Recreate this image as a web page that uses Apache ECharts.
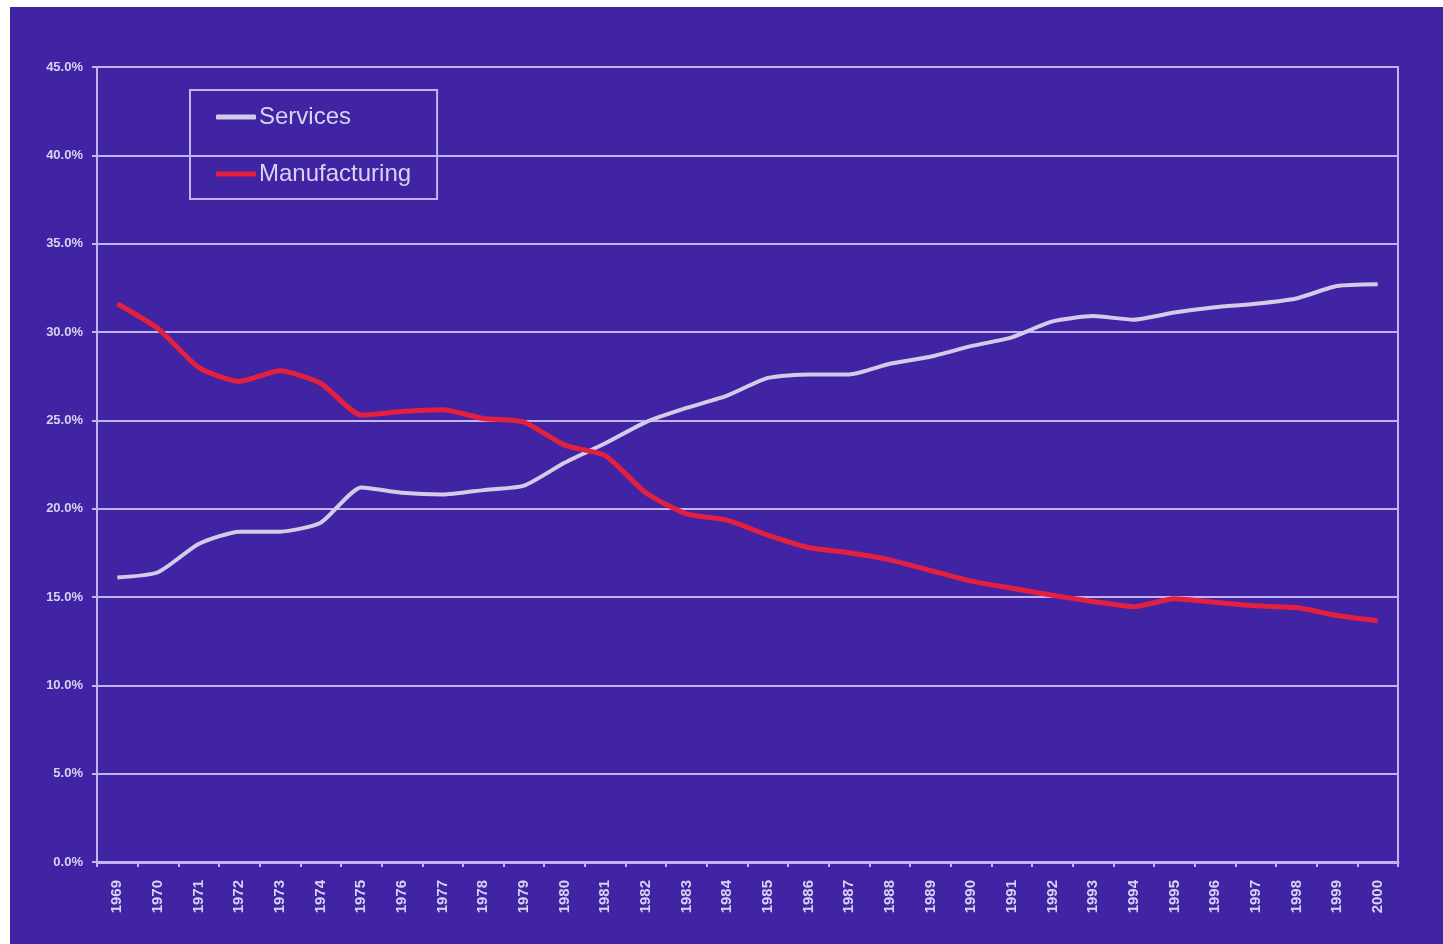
<!DOCTYPE html>
<html>
<head>
<meta charset="utf-8">
<title>Services vs Manufacturing share, 1969–2000</title>
<script src="https://cdn.jsdelivr.net/npm/echarts@6/dist/echarts.min.js"></script>
<style>
  html, body { margin: 0; padding: 0; background: #ffffff; width: 1443px; height: 944px; overflow: hidden; }
  #frame { position: absolute; left: 10px; top: 7px; right: 0; bottom: 0; background: #4124a4; }
  #chart { position: absolute; left: 0; top: 0; width: 1443px; height: 944px; }
</style>
</head>
<body>
<div id="frame"></div>
<div id="chart"></div>
<script>
// Years on the category axis
const years = ['1969','1970','1971','1972','1973','1974','1975','1976','1977','1978','1979',
  '1980','1981','1982','1983','1984','1985','1986','1987','1988','1989','1990',
  '1991','1992','1993','1994','1995','1996','1997','1998','1999','2000'];

// Share of total (percent)
const services = [16.1, 16.4, 18.0, 18.7, 18.7, 19.2, 21.2, 20.9, 20.8, 21.05, 21.3,
  22.6, 23.7, 24.9, 25.7, 26.4, 27.4, 27.6, 27.6, 28.2, 28.6, 29.2,
  29.7, 30.6, 30.9, 30.7, 31.1, 31.4, 31.6, 31.9, 32.6, 32.7];

const manufacturing = [31.6, 30.2, 28.0, 27.2, 27.8, 27.1, 25.3, 25.5, 25.6, 25.1, 24.9,
  23.6, 23.0, 20.9, 19.7, 19.35, 18.5, 17.8, 17.5, 17.1, 16.5, 15.9,
  15.5, 15.1, 14.75, 14.45, 14.9, 14.7, 14.5, 14.4, 13.95, 13.65];

const seriesNames = ['Services', 'Manufacturing'];

const narrow = "'Liberation Sans Narrow', 'Liberation Sans', Arial, sans-serif";
const inkLight = '#d9d2f2';
const ruleColor = '#c2b3f5';

const chart = echarts.init(document.getElementById('chart'), null, { renderer: 'canvas' });

chart.setOption({
  backgroundColor: 'transparent',
  animation: false,
  grid: {
    left: 97, right: 45, top: 67, bottom: 82,
    show: true,
    borderColor: ruleColor,
    borderWidth: 2,
    backgroundColor: 'transparent'
  },
  legend: {
    orient: 'vertical',
    left: 190,
    top: 90,
    data: seriesNames,
    icon: 'roundRect',
    itemWidth: 40,
    itemHeight: 5,
    itemGap: 33,
    padding: [15, 26, 13, 26],
    borderColor: ruleColor,
    borderWidth: 2,
    textStyle: {
      color: inkLight,
      fontFamily: narrow,
      fontSize: 24,
      lineHeight: 22,
      padding: [0, 0, 0, -2]
    }
  },
  xAxis: {
    type: 'category',
    data: years,
    boundaryGap: true,
    axisLine: { lineStyle: { color: ruleColor, width: 3 } },
    axisTick: { show: true, length: 5, lineStyle: { color: ruleColor, width: 2 } },
    axisLabel: {
      rotate: 90,
      margin: 18,
      color: inkLight,
      fontFamily: narrow,
      fontSize: 15,
      fontWeight: 'bold',
      interval: 0
    },
    splitLine: { show: false }
  },
  yAxis: {
    type: 'value',
    min: 0,
    max: 45,
    interval: 5,
    axisLine: { show: true, lineStyle: { color: ruleColor, width: 2 } },
    axisTick: { show: true, length: 5, lineStyle: { color: ruleColor, width: 2 } },
    axisLabel: {
      margin: 14,
      color: inkLight,
      fontFamily: narrow,
      fontSize: 13,
      fontWeight: 'bold',
      formatter: v => v.toFixed(1) + '%'
    },
    splitLine: { show: true, lineStyle: { color: ruleColor, width: 2 } }
  },
  series: [
    {
      name: seriesNames[0],
      type: 'line',
      data: services,
      showSymbol: false,
      symbol: 'none',
      smooth: 0.2,
      lineStyle: { color: '#d4cbe9', width: 4 },
      itemStyle: { color: '#d4cbe9' }
    },
    {
      name: seriesNames[1],
      type: 'line',
      data: manufacturing,
      showSymbol: false,
      symbol: 'none',
      smooth: 0.2,
      lineStyle: { color: '#e4203f', width: 5 },
      itemStyle: { color: '#e4203f' }
    }
  ]
});
</script>
</body>
</html>
